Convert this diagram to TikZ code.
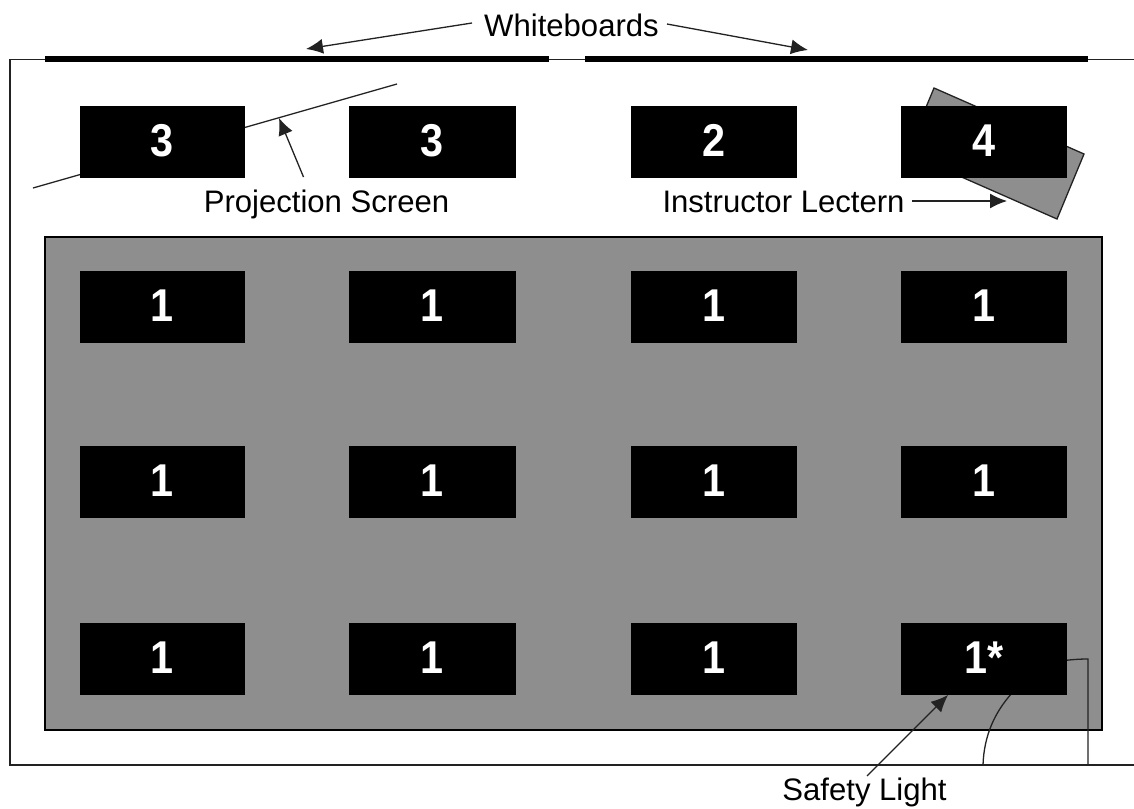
\documentclass[tikz,border=0pt]{standalone}
\usepackage{fontspec}
\setmainfont{Liberation Sans}
\newfontfamily\digitfont[FakeStretch=0.9]{Liberation Sans Bold}
\usetikzlibrary{arrows.meta}
\definecolor{roomgray}{HTML}{8E8E8E}
\definecolor{linegray}{HTML}{222222}
\tikzset{
  seat/.style={fill=black,draw=none,minimum width=166pt,minimum height=72pt,inner sep=0pt,text=white,text depth=3pt,font=\fontsize{46}{46}\digitfont},
  lbl/.style={inner sep=0pt,anchor=base,font=\fontsize{31.1}{31}\selectfont,text=black},
  wall/.style={draw=linegray,line width=1.3pt},
  board/.style={draw=black,line width=6pt},
  callout/.style={draw=linegray,line width=1.3pt,-{Latex[length=17pt,width=15pt]}},
  thin wire/.style={draw=linegray,line width=1.3pt}
}
\begin{document}
\begin{tikzpicture}[x=1pt,y=-1pt]
\useasboundingbox (0,0) rectangle (1134,808);
\fill[white] (0,0) rectangle (1134,808);
% room outline
\coordinate (rTL) at (10,59.5);
\coordinate (rTR) at (1134,59.5);
\coordinate (rBL) at (10,765);
\coordinate (rBR) at (1134,765);
\draw[wall] (rTR) -- (rTL) -- (rBL) -- (rBR);
% gray floor
\node[draw=black,line width=1.3pt,fill=roomgray,minimum width=1057pt,minimum height=493pt,inner sep=0pt] (floor) at (573.5,483.5) {};
% whiteboards
\coordinate (b1a) at (45,59); \coordinate (b1b) at (549,59);
\coordinate (b2a) at (585,59); \coordinate (b2b) at (1088,59);
\draw[board] (b1a) -- (b1b);
\draw[board] (b2a) -- (b2b);
% lectern
\draw[draw=linegray,line width=1.3pt,fill=roomgray] (934,88) -- (1084,154) -- (1057,219) -- (907,153) -- cycle;
% screen
\coordinate (s1) at (33,188); \coordinate (s2) at (397,84);
\draw[wall] (s1) -- (s2);
% wires (under the seats)
\coordinate (w1a) at (1060,661); \coordinate (w1b) at (1088,765);
\draw[thin wire] (w1a) .. controls (1072,659.5) and (1080,659) .. (1088,659) -- (w1b);
\coordinate (w2a) at (1012,693); \coordinate (w2b) at (983,765);
\draw[thin wire] (w2a) .. controls (995,712) and (984,735) .. (w2b);
% seats
\node[seat,minimum width=165pt] (a1) at (162.5,142) {3};
\node[seat,minimum width=167pt] (a2) at (432.5,142) {3};
\node[seat] (a3) at (714,142) {2};
\node[seat] (a4) at (984,142) {4};
\node[seat,minimum width=165pt] (b1) at (162.5,307) {1};
\node[seat,minimum width=167pt] (b2) at (432.5,307) {1};
\node[seat] (b3) at (714,307) {1};
\node[seat] (b4) at (984,307) {1};
\node[seat,minimum width=165pt] (c1) at (162.5,482) {1};
\node[seat,minimum width=167pt] (c2) at (432.5,482) {1};
\node[seat] (c3) at (714,482) {1};
\node[seat] (c4) at (984,482) {1};
\node[seat,minimum width=165pt] (d1) at (162.5,659) {1};
\node[seat,minimum width=167pt] (d2) at (432.5,659) {1};
\node[seat] (d3) at (714,659) {1};
\node[seat] (d4) at (984,659) {1*};
% labels
\node[lbl] (wb) at (571.5,36.5) {Whiteboards};
\node[lbl] (ps) at (326.5,212.5) {Projection Screen};
\node[lbl] (il) at (783.5,212.5) {Instructor Lectern};
\node[lbl] (sl) at (864.5,800) {Safety Light};
% callouts
\coordinate (c1a) at (472,23);   \coordinate (t1) at (306,49);
\coordinate (c2a) at (667,24);   \coordinate (t2) at (808,50);
\coordinate (c3a) at (303.5,177);\coordinate (t3) at (279,118);
\coordinate (c4a) at (912,201);  \coordinate (t4) at (1007,201);
\coordinate (c5a) at (867,776);  \coordinate (t5) at (948,695);
\draw[callout] (c1a) -- (t1);
\draw[callout] (c2a) -- (t2);
\draw[callout] (c3a) -- (t3);
\draw[callout] (c4a) -- (t4);
\draw[callout] (c5a) -- (t5);
\end{tikzpicture}
\end{document}
